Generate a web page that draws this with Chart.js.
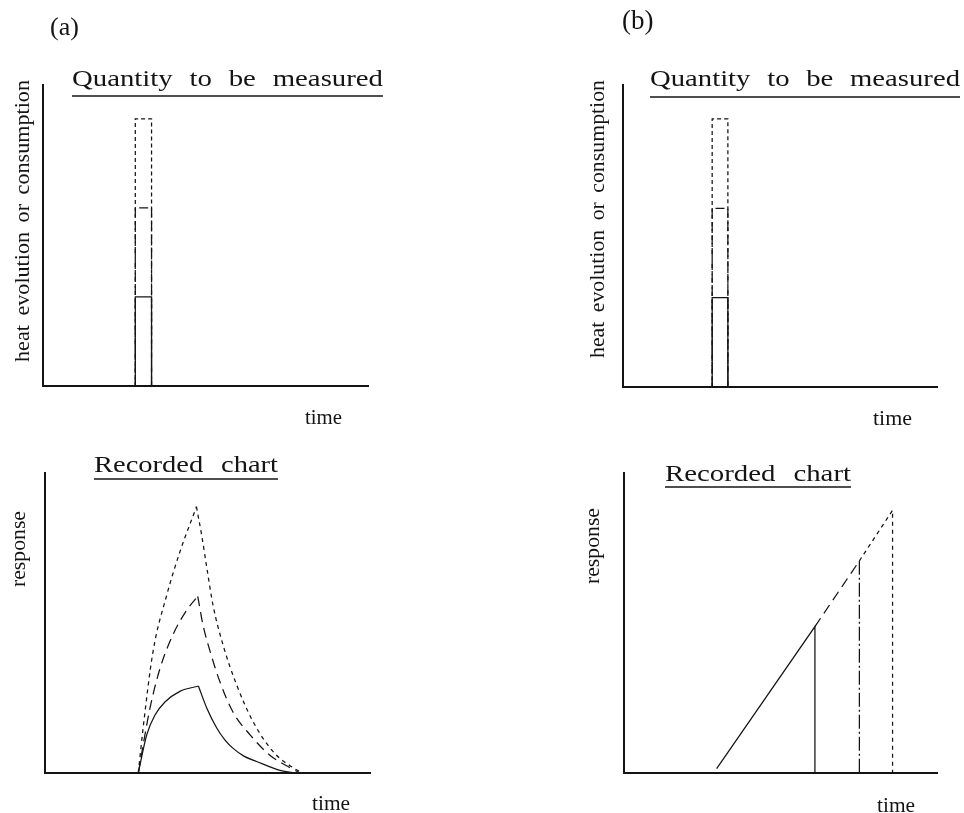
<!DOCTYPE html>
<html>
<head>
<meta charset="utf-8">
<script src="https://cdn.jsdelivr.net/npm/chart.js@4/dist/chart.umd.min.js"></script>
<style>
  html, body { margin: 0; padding: 0; background: #fff; }
  #wrap { position: relative; width: 964px; height: 813px; }
  #wrap canvas { position: absolute; left: 0; top: 0; }
</style>
</head>
<body>
<div id="wrap">
  <canvas id="topA" width="964" height="813"></canvas>
  <canvas id="topB" width="964" height="813"></canvas>
  <canvas id="botA" width="964" height="813"></canvas>
  <canvas id="botB" width="964" height="813"></canvas>
</div>
<script>
// =======================
//  DATA (time 0-10, response in "pulse units")
// =======================
const pulseStart = 2.84;
const pulseEnd = 3.34;
const pulseLevels = [1, 2, 3];          // solid, dashed, dotted

// recorded chart (a): rise and decay of each trace
const solidRiseT = [2.87, 3.13, 3.38, 3.69, 4.15, 4.72];
const solidRiseY = [0, 0.43, 0.65, 0.80, 0.92, 0.98];
const solidFallT = [4.72, 4.98, 5.28, 5.54, 5.78, 6.12, 6.51, 7.23, 7.74];
const solidFallY = [0.98, 0.73, 0.51, 0.37, 0.28, 0.19, 0.13, 0.03, 0];

const dashRiseT = [2.87, 3.23, 3.54, 3.94, 4.37, 4.70];
const dashRiseY = [0, 0.73, 1.18, 1.56, 1.84, 1.99];
const dashFallT = [4.70, 4.86, 5.08, 5.38, 5.78, 6.31, 6.92, 7.54, 7.85];
const dashFallY = [1.99, 1.67, 1.37, 1.03, 0.69, 0.43, 0.20, 0.06, 0];

const dotRiseT = [2.87, 3.02, 3.32, 3.75, 4.15, 4.66];
const dotRiseY = [0, 0.51, 1.36, 2.01, 2.49, 3.0];
const dotFallT = [4.66, 4.82, 4.98, 5.17, 5.48, 5.90, 6.40, 7.02, 7.63, 7.94];
const dotFallY = [3.0, 2.68, 2.31, 1.89, 1.44, 0.99, 0.58, 0.24, 0.06, 0];

// recorded chart (b): integrating ramp, stopped at three times
const rampStart = [2.96, 0.05];
const stopTimes = [6.10, 7.52, 8.58];
const stopResp = [1.65, 2.39, 2.96];

const INK = "#141414";
const SERIF = '"Liberation Serif", "Times New Roman", serif';

// =======================
//  HELPERS
// =======================
function pts(xs, ys) {
  return xs.map((x, i) => ({ x, y: ys[i] }));
}

function line(data, dash, extra) {
  return Object.assign({
    data,
    borderColor: INK,
    borderWidth: 1.25,
    borderDash: dash || [],
    fill: false,
    tension: 0,
    pointRadius: 0
  }, extra || {});
}

function pulse(level, dash) {
  return line([
    { x: pulseStart, y: 0 },
    { x: pulseStart, y: level },
    { x: pulseEnd, y: level },
    { x: pulseEnd, y: 0 }
  ], dash);
}

// text drawn on the canvas (titles, axis names)
// the printed face is wider than Times, so the text is stretched to its width
const paperText = {
  id: "paperText",
  afterDraw(chart, args, opts) {
    const ctx = chart.ctx;
    (opts.items || []).forEach(t => {
      ctx.save();
      ctx.fillStyle = INK;
      ctx.strokeStyle = INK;
      ctx.font = t.size + "px " + SERIF;
      ctx.wordSpacing = (t.ws || 0) + "px";
      const m = ctx.measureText(t.text).width;
      ctx.translate(t.x, t.y);
      if (t.rotate) ctx.rotate(-Math.PI / 2);
      if (t.underline) {
        ctx.lineWidth = 1.6;
        ctx.beginPath();
        ctx.moveTo(0, t.underline);
        ctx.lineTo(t.w, t.underline);
        ctx.stroke();
      }
      if (t.w) ctx.scale(t.w / m, 1);
      ctx.textAlign = t.rotate ? "center" : "left";
      ctx.textBaseline = "alphabetic";
      ctx.fillText(t.text, 0, 0);
      ctx.restore();
    });
  }
};

function makeChart(id, pad, datasets, items) {
  const axis = (isX) => ({
    type: "linear",
    min: 0,
    max: isX ? 10 : 3.38,
    ticks: { display: false },
    grid: { display: false, drawTicks: false },
    border: { display: true, color: INK, width: 2 },
    afterFit: s => { if (isX) s.height = 0; else s.width = 0; }
  });
  return new Chart(document.getElementById(id), {
    type: "line",
    data: { datasets },
    options: {
      responsive: false,
      animation: false,
      layout: { padding: pad },
      plugins: {
        legend: { display: false },
        tooltip: { enabled: false },
        paperText: { items }
      },
      scales: { x: axis(true), y: axis(false) }
    },
    plugins: [paperText]
  });
}

// =======================
//  TOP (a)
// =======================
makeChart("topA", { left: 43, top: 85, right: 596, bottom: 427 }, [
  pulse(pulseLevels[0], []),
  pulse(pulseLevels[1], [9, 4]),
  pulse(pulseLevels[2], [4, 3])
], [
  { text: "(a)", x: 50, y: 35, size: 26 },
  { text: "Quantity to be measured", x: 72, y: 86, size: 24, ws: 8, w: 311, underline: 10 },
  { text: "heat evolution or consumption", x: 29, y: 221, size: 22, ws: 4, w: 282, rotate: true },
  { text: "time", x: 305, y: 424, size: 21, w: 37 }
]);

// =======================
//  TOP (b)
// =======================
makeChart("topB", { left: 623, top: 85, right: 27, bottom: 426 }, [
  pulse(pulseLevels[0], []),
  pulse(pulseLevels[1], [9, 4]),
  pulse(pulseLevels[2], [4, 3])
], [
  { text: "(b)", x: 622, y: 29, size: 27 },
  { text: "Quantity to be measured", x: 650, y: 86, size: 24, ws: 8, w: 310, underline: 11 },
  { text: "heat evolution or consumption", x: 604, y: 219, size: 22, ws: 4, w: 278, rotate: true },
  { text: "time", x: 873, y: 425, size: 21, w: 39 }
]);

// =======================
//  BOTTOM (a) recorded chart
// =======================
const smooth = { cubicInterpolationMode: "monotone" };
makeChart("botA", { left: 45, top: 473, right: 594, bottom: 40 }, [
  line(pts(solidRiseT, solidRiseY), [], smooth),
  line(pts(solidFallT, solidFallY), [], smooth),
  line(pts(dashRiseT, dashRiseY), [10, 6], smooth),
  line(pts(dashFallT, dashFallY), [10, 6], smooth),
  line(pts(dotRiseT, dotRiseY), [4, 4], smooth),
  line(pts(dotFallT, dotFallY), [4, 4], smooth)
], [
  { text: "Recorded chart", x: 94, y: 472, size: 24, ws: 9, w: 184, underline: 7 },
  { text: "response", x: 25, y: 549, size: 22, w: 76, rotate: true },
  { text: "time", x: 312, y: 810, size: 21, w: 38 }
]);

// =======================
//  BOTTOM (b) recorded chart
// =======================
makeChart("botB", { left: 624, top: 473, right: 27, bottom: 40 }, [
  line([
    { x: rampStart[0], y: rampStart[1] },
    { x: stopTimes[0], y: stopResp[0] },
    { x: stopTimes[0], y: 0 }
  ], []),
  line([
    { x: stopTimes[0], y: stopResp[0] },
    { x: stopTimes[1], y: stopResp[1] }
  ], [10, 6]),
  line([
    { x: stopTimes[1], y: stopResp[1] },
    { x: stopTimes[1], y: 0 }
  ], [14, 3, 2, 3]),
  line([
    { x: stopTimes[1], y: stopResp[1] },
    { x: stopTimes[2], y: stopResp[2] },
    { x: stopTimes[2], y: 0 }
  ], [4, 4])
], [
  { text: "Recorded chart", x: 665, y: 481, size: 24, ws: 9, w: 186, underline: 6 },
  { text: "response", x: 599, y: 546, size: 22, w: 76, rotate: true },
  { text: "time", x: 877, y: 812, size: 21, w: 38 }
]);
</script>
</body>
</html>
